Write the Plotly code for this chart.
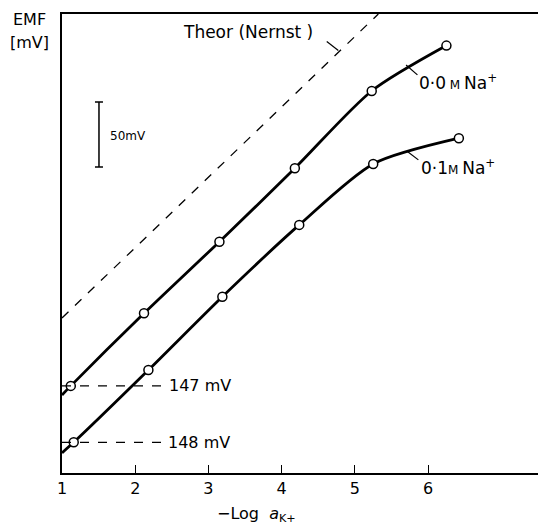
import plotly.graph_objects as go

# -Log aK+ and EMF (mV, relative)
log_ak_00 = [1.0, 1.12, 2.12, 3.15, 4.18, 5.23, 6.25]
emf_00 = [60.0, 67.0, 122.8, 177.9, 234.4, 293.8, 328.7]
log_ak_01 = [1.0, 1.16, 2.18, 3.19, 4.24, 5.25, 6.42]
emf_01 = [15.5, 23.6, 79.2, 135.6, 190.8, 237.7, 257.5]

# theoretical Nernst line end points
log_ak_theor = [1.0, 5.32]
emf_theor = [119.2, 353.0]

# 50 mV scale bar
scale_x = [1.505]
scale_mid = [260.4]
scale_half = [25.0]

x_ticks = [1, 2, 3, 4, 5, 6]
x_range = [1.0, 7.61]
y_range = [0.0, 353.0]

FONT = "DejaVu Sans"

fig = go.Figure()

# theoretical dashed line
fig.add_trace(go.Scatter(
    x=log_ak_theor, y=emf_theor, mode="lines",
    line=dict(color="black", width=1.3, dash="dash"),
    showlegend=False, hoverinfo="skip"
))

# measured curves
for xs, ys in [(log_ak_00, emf_00), (log_ak_01, emf_01)]:
    fig.add_trace(go.Scatter(
        x=xs, y=ys, mode="lines",
        line=dict(color="black", width=2.8, shape="spline", smoothing=0.75),
        showlegend=False
    ))
    fig.add_trace(go.Scatter(
        x=xs[1:], y=ys[1:], mode="markers",
        marker=dict(symbol="circle", size=9, color="white",
                    line=dict(color="black", width=1.5)),
        showlegend=False
    ))

# reference dashes at first points (147 mV / 148 mV)
for ys in [emf_00, emf_01]:
    fig.add_trace(go.Scatter(
        x=[1.0, 2.41], y=[ys[1], ys[1]], mode="lines",
        line=dict(color="black", width=1.3, dash="dash"),
        showlegend=False, hoverinfo="skip"
    ))

# scale bar
fig.add_trace(go.Scatter(
    x=scale_x, y=scale_mid, mode="markers",
    marker=dict(size=1, color="rgba(0,0,0,0)"),
    error_y=dict(type="data", array=scale_half, width=4,
                 thickness=1.5, color="black"),
    showlegend=False, hoverinfo="skip"
))

# leader lines for labels
leaders = [
    (4.616, 331.8, 4.774, 325.0),
    (5.699, 313.8, 5.854, 306.2),
    (5.717, 247.2, 5.867, 240.8),
]
for x0, y0, x1, y1 in leaders:
    fig.add_shape(type="line", x0=x0, y0=y0, x1=x1, y1=y1,
                  line=dict(color="black", width=1.2))

def label(text, x, y, size=16, anchor="left"):
    fig.add_annotation(x=x, y=y, text=text, showarrow=False,
                       xanchor=anchor, yanchor="middle",
                       font=dict(family=FONT, size=size, color="black"))

label("Theor (Nernst )", 3.534, 339.2, size=17, anchor="center")
label("0·0<span style='font-size:12px'> M </span>Na<sup>+</sup>", 5.85, 301.0, size=17)
label("0·1<span style='font-size:12px'>M </span>Na<sup>+</sup>", 5.877, 235.6, size=17)
label("147 mV", 2.44, 67.0)
label("148 mV", 2.42, 23.6)
label("50mV", 1.63, 259.0, size=12)

# axis titles
fig.add_annotation(x=-0.068, y=0.987, xref="paper", yref="paper", text="EMF",
                   showarrow=False, xanchor="center", yanchor="middle",
                   font=dict(family=FONT, size=16, color="black"))
fig.add_annotation(x=-0.068, y=0.937, xref="paper", yref="paper", text="[mV]",
                   showarrow=False, xanchor="center", yanchor="middle",
                   font=dict(family=FONT, size=16, color="black"))
fig.add_annotation(x=3.66, y=-0.09, xref="x", yref="paper",
                   text="−Log  <i>a</i><sub>K+</sub>",
                   showarrow=False, xanchor="center", yanchor="middle",
                   font=dict(family=FONT, size=16, color="black"))

fig.update_xaxes(
    range=x_range, tickvals=x_ticks, ticks="inside", ticklen=8,
    tickwidth=1.3, tickcolor="black", showline=True, linecolor="black",
    linewidth=2, mirror=True, showgrid=False, zeroline=False,
    tickfont=dict(family=FONT, size=16, color="black")
)
fig.update_yaxes(
    range=y_range, showticklabels=False, ticks="", showline=True,
    linecolor="black", linewidth=2, showgrid=False, zeroline=False
)

# the page body adds an 8px margin, so the figure is sized to fit after it
fig.update_layout(
    width=538, height=519,
    margin=dict(l=54, r=0, t=6, b=54),
    plot_bgcolor="white", paper_bgcolor="white",
    showlegend=False
)

fig.write_html("out.html")
